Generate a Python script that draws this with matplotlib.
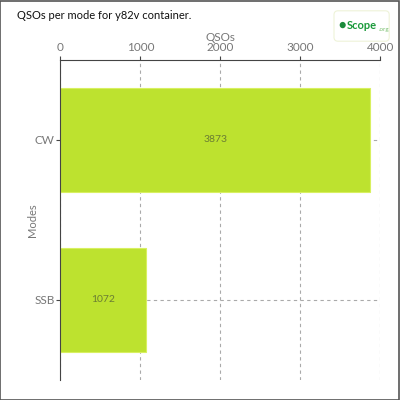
import matplotlib
matplotlib.use('Agg')
import matplotlib.pyplot as plt
from matplotlib.patches import FancyBboxPatch, Rectangle

modes = ['CW', 'SSB']
qsos = [3873, 1072]
xticks = [0, 1000, 2000, 3000, 4000]

plt.rcParams['font.family'] = ['Lato', 'DejaVu Sans']

fig = plt.figure(figsize=(4, 4), dpi=100)
ax = fig.add_axes([0.151, 0.05, 0.80, 0.80])

ypos = list(range(len(modes)))
bars = ax.barh(ypos, qsos, height=0.65, color='#bde22f', edgecolor='#d8f060',
               linewidth=0.8, zorder=2)
for b, v in zip(bars, qsos):
    ax.text(v / 2, b.get_y() + b.get_height() / 2, str(v), ha='center', va='center',
            fontsize=7.5, color='#6b7d33', zorder=3)

ax.set_xlim(0, 4000)
ax.set_ylim(1.5, -0.5)
ax.set_yticks(ypos)
ax.set_yticklabels(modes)
ax.set_xticks(xticks)
ax.xaxis.tick_top()
ax.xaxis.set_label_position('top')
ax.set_xlabel('QSOs', fontsize=8.5, color='#777777', labelpad=1)
ax.set_ylabel('Modes', fontsize=8, color='#777777')
ax.yaxis.set_label_coords(-0.07, 0.5)
ax.tick_params(axis='both', labelsize=8.5, labelcolor='#777777', color='#444444',
               length=3, width=0.8, pad=2)
ax.tick_params(axis='y', pad=1)
ax.grid(True, linestyle=(0, (3, 3)), color='#aaaaaa', linewidth=0.8, zorder=0)
ax.set_axisbelow(True)
for s in ['right', 'bottom']:
    ax.spines[s].set_visible(False)
ax.spines['left'].set_color('#444444')
ax.spines['top'].set_color('#444444')

fig.text(0.043, 0.962, 'QSOs per mode for y82v container.', fontsize=8,
         color='#111111', va='center', ha='left')

# logo
fig.patches.append(FancyBboxPatch((0.835, 0.897), 0.138, 0.076,
                                  boxstyle='round,pad=0,rounding_size=0.01',
                                  transform=fig.transFigure, facecolor='white',
                                  edgecolor='#eef3d8', linewidth=0.8))
fig.text(0.856, 0.937, '●', fontsize=9, color='#1a8a3a', ha='center', va='center')
fig.text(0.868, 0.937, 'Scope', fontsize=8, color='#1a9a3a', ha='left', va='center',
         fontweight='bold')
fig.text(0.946, 0.925, '.org', fontsize=4.5, color='#7ac070', ha='left', va='center')

# figure border
fig.patches.append(Rectangle((0.001, 0.001), 0.997, 0.997, transform=fig.transFigure,
                             fill=False, edgecolor='#555555', linewidth=1.2))

fig.savefig('out.png', dpi=100)
